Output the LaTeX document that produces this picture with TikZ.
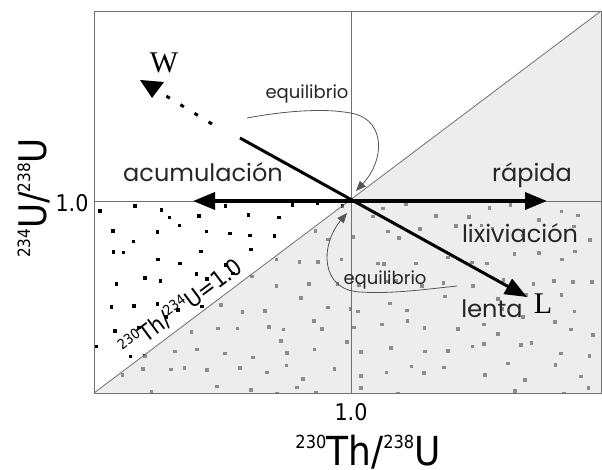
\documentclass[tikz,border=0pt]{standalone}
\usepackage{fontspec}
\setmainfont{Liberation Serif}
\newfontfamily\geo{Poppins}
\newfontfamily\axf{DejaVu Sans Condensed}
\usetikzlibrary{arrows.meta}
\definecolor{shadegray}{HTML}{EDEDED}
\definecolor{framegray}{HTML}{707070}
\definecolor{dotgray}{HTML}{8C8C8C}
\definecolor{curvegray}{HTML}{555555}
\begin{document}
\begin{tikzpicture}[x=1pt,y=-1pt,
  frameline/.style={draw=framegray,line width=0.9pt},
  diagline/.style={draw=framegray,line width=0.8pt},
  bigarrow/.style={line width=3.6pt,{Triangle[length=22pt,width=17pt]}-{Triangle[length=22pt,width=17pt]}},
  diagarrow/.style={line width=3pt,-{Triangle[length=22pt,width=17pt]}},
  dotline/.style={line width=3pt,dash pattern=on 4pt off 12.5pt},
  eqcurve/.style={draw=curvegray,line width=0.8pt,-{Triangle[length=10pt,width=8pt]}},
  biglabel/.style={font=\geo\fontsize{24}{24}\selectfont,text=black!85,inner sep=0pt},
  eqlabel/.style={font=\geo\fontsize{18}{18}\selectfont,text=black!85,inner sep=0pt},
  letter/.style={font=\fontsize{30}{30}\selectfont,inner sep=0pt},
  axnum/.style={font=\axf\fontsize{23}{23}\selectfont,inner sep=0pt}]
\useasboundingbox (0,0) rectangle (602,470);
% frame coordinates
\coordinate (TL) at (94,11);
\coordinate (TR) at (601,11);
\coordinate (BL) at (94,393);
\coordinate (BR) at (601,393);
\coordinate (C) at (351,201);
\coordinate (Lft) at (94,201);
\coordinate (Rgt) at (601,201);
\coordinate (Top) at (351,11);
\coordinate (Bot) at (351,393);
% shaded lower-right triangle
\fill[shadegray] (BL) -- (TR) -- (BR) -- cycle;
% black dots
\begin{scope}
\clip (Lft) -- (C) -- (BL) -- cycle;
\pgfmathsetseed{31415}
\foreach \i in {0,...,21} {
  \foreach \j in {0,...,8} {
    \pgfmathsetmacro{\px}{94+10+\i*24+mod(\j,2)*12+rand*10}
    \pgfmathsetmacro{\py}{201+10+\j*23+rand*9}
    \fill[black] (\px-1.8,\py-1.8) rectangle (\px+1.8,\py+1.8);
  }
}
\end{scope}
% gray dots
\begin{scope}
\clip (BL) -- (C) -- (Rgt) -- (BR) -- cycle;
\pgfmathsetseed{31415}
\foreach \i in {0,...,21} {
  \foreach \j in {0,...,8} {
    \pgfmathsetmacro{\px}{94+10+\i*24+mod(\j,2)*12+rand*10}
    \pgfmathsetmacro{\py}{201+10+\j*23+rand*9}
    \fill[dotgray] (\px-1.8,\py-1.8) rectangle (\px+1.8,\py+1.8);
  }
}
\end{scope}
% frame and cross lines
\draw[frameline] (TL) rectangle (BR);
\draw[frameline] (Lft) -- (Rgt);
\draw[frameline] (Top) -- (Bot);
\draw[diagline] (BL) -- (TR);
% arrows
\coordinate (AccTip) at (193,201);
\coordinate (RapTip) at (547,201);
\draw[bigarrow] (AccTip) -- (RapTip);
\coordinate (DStart) at (240,138);
\coordinate (LTip) at (527,297);
\draw[diagarrow] (DStart) -- (LTip);
\coordinate (DotA) at (212,124);
\coordinate (DotB) at (158,91);
\draw[dotline] (DotA) -- (DotB);
\coordinate (WA) at (140,80);
\coordinate (WB) at (164,82);
\coordinate (WC) at (152,98);
\fill (WA) -- (WB) -- (WC) -- cycle;
% equilibrio curves
\coordinate (EqUs) at (247,118);
\coordinate (EqUm) at (355,114);
\coordinate (EqUe) at (356,191);
\draw[eqcurve] (EqUs) .. controls (290,110) and (330,108) .. (EqUm) .. controls (385,122) and (385,160) .. (EqUe);
\coordinate (EqLs) at (457,286);
\coordinate (EqLm) at (360,292);
\coordinate (EqLe) at (347,213);
\draw[eqcurve] (EqLs) .. controls (420,290) and (390,294) .. (EqLm) .. controls (320,290) and (320,245) .. (EqLe);
% labels
\node[letter,anchor=base] (W) at (164,73) {W};
\node[letter,anchor=base] (L) at (543,313) {L};
\node[biglabel,anchor=base] (acum) at (203,182) {acumulación};
\node[biglabel,anchor=base] (rap) at (532,182) {rápida};
\node[biglabel,anchor=base] (lix) at (520,243) {lixiviación};
\node[biglabel,anchor=base] (len) at (492,317) {lenta};
\node[eqlabel,anchor=base] (equ) at (307,99) {equilibrio};
\node[eqlabel,anchor=base] (eql) at (385,284) {equilibrio};
\node[axnum] (one1) at (72,203) {1.0};
\node[axnum] (one2) at (351,412) {1.0};
\node[font=\axf\fontsize{40}{40}\selectfont,inner sep=0pt,text depth=0pt,anchor=base] (xlab) at (368,465)
  {\raisebox{17pt}{\fontsize{18}{18}\selectfont 230}Th/\raisebox{17pt}{\fontsize{18}{18}\selectfont 238}U};
\node[font=\axf\fontsize{38}{38}\selectfont,inner sep=0pt,anchor=base,rotate=90] (ylab) at (46,198)
  {\raisebox{16pt}{\fontsize{17}{17}\selectfont 234}U/\raisebox{16pt}{\fontsize{17}{17}\selectfont 238}U};
\node[font=\axf\fontsize{23}{23}\selectfont,inner sep=0pt,anchor=base,rotate=36.8] (dlab) at (186,314)
  {\raisebox{9pt}{\fontsize{14}{14}\selectfont 230}Th/\raisebox{9pt}{\fontsize{14}{14}\selectfont 234}U=1.0};
\end{tikzpicture}
\end{document}
